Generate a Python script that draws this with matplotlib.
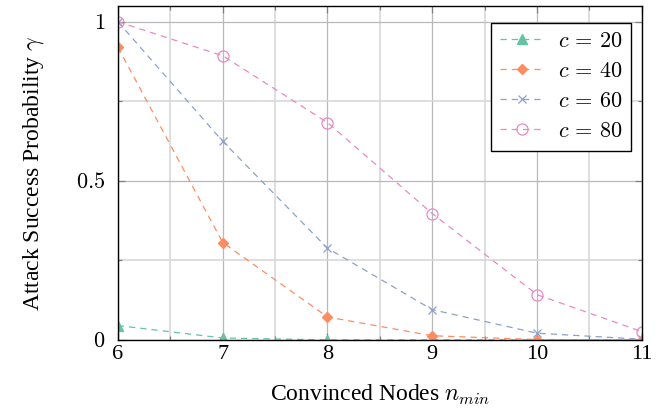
import numpy as np
import matplotlib.pyplot as plt
from matplotlib.ticker import MultipleLocator

plt.rcParams['font.family'] = ['Liberation Serif', 'DejaVu Serif']
plt.rcParams['mathtext.fontset'] = 'cm'

n_min = [6, 7, 8, 9, 10, 11]
c20 = [0.045, 0.006, 0.0, 0.0, 0.0, 0.0]
c40 = [0.92, 0.306, 0.072, 0.013, 0.001, 0.0]
c60 = [1.0, 0.624, 0.288, 0.095, 0.021, 0.002]
c80 = [1.0, 0.893, 0.683, 0.397, 0.142, 0.026]
labels = ['$c\\,=\\,20$', '$c\\,=\\,40$', '$c\\,=\\,60$', '$c\\,=\\,80$']

fig = plt.figure(figsize=(6.7, 4.15), dpi=100)
ax = fig.add_axes([0.176, 0.181, 0.782, 0.805])

ax.plot(n_min, c20, '--', color='#66c2a5', lw=0.9, dashes=(5, 4),
        marker='^', ms=7, label=labels[0])
ax.plot(n_min, c40, '--', color='#fc8d62', lw=0.9, dashes=(5, 4),
        marker='D', ms=5.5, label=labels[1])
ax.plot(n_min, c60, '--', color='#8da0cb', lw=0.9, dashes=(5, 4),
        marker='x', ms=6, mew=0.9, label=labels[2])
ax.plot(n_min, c80, '--', color='#e78ac3', lw=0.9, dashes=(5, 4),
        marker='o', ms=8, mfc='none', mew=0.9, label=labels[3])

ax.set_xlim(6, 11)
ax.set_ylim(0, 1.05)
ax.set_xticks(n_min)
ax.set_yticks([0, 0.5, 1])
ax.set_yticklabels(['$0$', '$0.5$', '$1$'])
ax.xaxis.set_minor_locator(MultipleLocator(0.5))
ax.yaxis.set_minor_locator(MultipleLocator(0.25))
ax.grid(which='major', color='#b8b8b8', lw=0.9)
ax.grid(which='minor', color='#d8d8d8', lw=1.2)
ax.set_axisbelow(True)
ax.tick_params(which='both', direction='in', top=True, right=True,
               labelsize=16, color='#808080')
ax.tick_params(which='major', length=5, width=0.9)
ax.tick_params(axis='y', pad=9)
ax.tick_params(which='minor', length=3, width=0.9)
for s in ax.spines.values():
    s.set_linewidth(1.0)

ax.set_xlabel('Convinced Nodes $n_{min}$', fontsize=17, labelpad=14)
ax.set_ylabel('Attack Success Probability $\\gamma$', fontsize=17, labelpad=22)

leg = ax.legend(loc='upper right', bbox_to_anchor=(0.98, 0.95), fontsize=16,
                fancybox=False, edgecolor='black', framealpha=1,
                handlelength=2.0, borderpad=0.4, labelspacing=0.42,
                handletextpad=0.6, borderaxespad=0)
leg.get_frame().set_linewidth(1.0)

fig.savefig('out.png', dpi=100)
